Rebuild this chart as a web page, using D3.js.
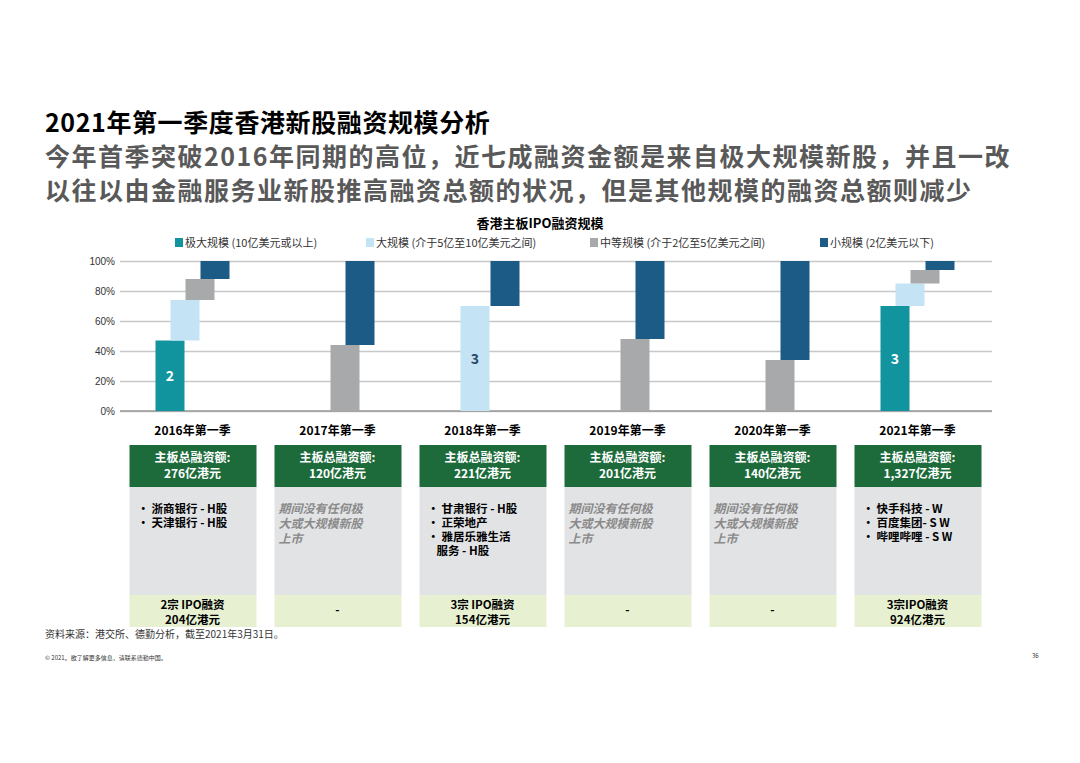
<!DOCTYPE html>
<html><head><meta charset="utf-8">
<script src="https://cdn.jsdelivr.net/npm/d3@7"></script>
<style>
body{margin:0;background:#fff;font-family:"Noto Sans CJK SC","Noto Sans",sans-serif;}
</style></head>
<body><div id="chart"></div>
<script>
// data
const years = ["2016年第一季","2017年第一季","2018年第一季","2019年第一季","2020年第一季","2021年第一季"];
const seriesNames = ["极大规模 (10亿美元或以上)","大规模 (介于5亿至10亿美元之间)","中等规模 (介于2亿至5亿美元之间)","小规模 (2亿美元以下)"];
const extraLarge = [47, 0, 0, 0, 0, 70];
const large      = [27, 0, 70, 0, 0, 15];
const medium     = [14, 44, 0, 48, 34, 9];
const small      = [12, 56, 30, 52, 66, 6];
const barLabels  = ["2", "", "3", "", "", "3"];
const labelSeries = [0, -1, 1, -1, -1, 0];
const totals = ["276亿港元","120亿港元","221亿港元","201亿港元","140亿港元","1,327亿港元"];
const listings = [["浙商银行 - H股","天津银行 - H股"], null, ["甘肃银行 - H股","正荣地产","雅居乐雅生活|服务 - H股"], null, null, ["快手科技 - W","百度集团- S W","哔哩哔哩 - S W"]];
const footers = [["2宗 IPO融资","204亿港元"], ["-"], ["3宗 IPO融资","154亿港元"], ["-"], ["-"], ["3宗IPO融资","924亿港元"]];
const yTicks = [0, 20, 40, 60, 80, 100];

const colors = ["#12949f", "#c4e3f4", "#a8a9ab", "#1c5b85"];
const W = 1080, H = 763;
const svg = d3.select("#chart").append("svg").attr("width", W).attr("height", H);

// titles
svg.append("text").attr("x", 45).attr("y", 132).attr("font-size", 25).attr("letter-spacing", 0.6).attr("font-weight", "bold").attr("fill", "#000")
  .text("2021年第一季度香港新股融资规模分析");
svg.append("text").attr("x", 45).attr("y", 166).attr("font-size", 25).attr("letter-spacing", 1.5).attr("font-weight", "bold").attr("fill", "#595959")
  .text("今年首季突破2016年同期的高位，近七成融资金额是来自极大规模新股，并且一改");
svg.append("text").attr("x", 45).attr("y", 200).attr("font-size", 25).attr("letter-spacing", 1.5).attr("font-weight", "bold").attr("fill", "#595959")
  .text("以往以由金融服务业新股推高融资总额的状况，但是其他规模的融资总额则减少");
svg.append("text").attr("x", 540).attr("y", 228).attr("text-anchor", "middle").attr("font-size", 13).attr("font-weight", "bold")
  .text("香港主板IPO融资规模");

// legend
const legX = [175, 366, 590, 820];
seriesNames.forEach((s, i) => {
  svg.append("rect").attr("x", legX[i]).attr("y", 238).attr("width", 8).attr("height", 9).attr("fill", colors[i]);
  svg.append("text").attr("x", legX[i] + 10).attr("y", 247).attr("font-size", 11).attr("fill", "#333").text(s);
});

// scales
const x = d3.scaleBand().domain(years).range([120, 990]);
const y = d3.scaleLinear().domain([0, 100]).range([411, 261]);

const yAxis = svg.append("g").attr("transform", "translate(120,0)")
  .call(d3.axisLeft(y).tickValues(yTicks).tickSize(-872).tickFormat(d => d + "%"));
yAxis.select(".domain").remove();
yAxis.selectAll(".tick line").attr("stroke", "#c8c8c8").attr("stroke-width", 1.5);
yAxis.selectAll(".tick text").attr("font-size", 10).attr("fill", "#333").attr("dx", -2);
svg.append("line").attr("x1", 120).attr("x2", 992).attr("y1", y(0)).attr("y2", y(0)).attr("stroke", "#999").attr("stroke-width", 1.5);

// waterfall bars
const series = [extraLarge, large, medium, small];
const bw = 29, step = 15;
years.forEach((yr, i) => {
  const cx = x(yr) + x.bandwidth() / 2;
  let base = 0;
  series.forEach((vals, k) => {
    const v = vals[i];
    const left = cx - 37 + k * step;
    if (v > 0) {
      svg.append("rect").attr("x", left).attr("width", bw)
        .attr("y", y(base + v)).attr("height", y(base) - y(base + v)).attr("fill", colors[k]);
      if (k === labelSeries[i]) {
        svg.append("text").attr("x", left + bw / 2).attr("y", y(base + v / 2) + 5).attr("text-anchor", "middle")
          .attr("font-size", 14).attr("font-weight", "bold").attr("fill", k === 0 ? "#fff" : "#2a4a66").text(barLabels[i]);
      }
    }
    base += v;
  });
  // category label
  svg.append("text").attr("x", cx).attr("y", 435).attr("text-anchor", "middle").attr("font-size", 12)
    .attr("font-weight", "bold").text(yr);

  // info box
  const bx = cx - 63, bwid = 127;
  svg.append("rect").attr("x", bx).attr("y", 445).attr("width", bwid).attr("height", 42).attr("fill", "#1d6b3b");
  svg.append("text").attr("x", cx).attr("y", 462).attr("text-anchor", "middle").attr("font-size", 12).attr("font-weight", "bold").attr("fill", "#fff").text("主板总融资额:");
  svg.append("text").attr("x", cx).attr("y", 478).attr("text-anchor", "middle").attr("font-size", 12).attr("font-weight", "bold").attr("fill", "#fff").text(totals[i]);
  svg.append("rect").attr("x", bx).attr("y", 487).attr("width", bwid).attr("height", 108).attr("fill", "#e2e3e5");
  svg.append("rect").attr("x", bx).attr("y", 595).attr("width", bwid).attr("height", 32).attr("fill", "#e7f1d2");
  if (listings[i]) {
    let ly = 513;
    listings[i].forEach(item => {
      item.split("|").forEach((ln, j) => {
        svg.append("text").attr("x", bx + (j === 0 ? 8 : 17)).attr("y", ly).attr("font-size", 11.5).attr("font-weight", "bold")
          .text((j === 0 ? "• " : "") + ln);
        ly += 14;
      });
    });
  } else {
    ["期间没有任何极", "大或大规模新股", "上市"].forEach((ln, j) => {
      svg.append("text").attr("x", bx + 4).attr("y", 513 + j * 15).attr("font-size", 12).attr("font-weight", "bold")
        .attr("font-style", "italic").attr("fill", "#8a8a8a").text(ln);
    });
  }
  footers[i].forEach((ln, j) => {
    svg.append("text").attr("x", cx).attr("y", footers[i].length === 1 ? 614 : 609 + j * 15).attr("text-anchor", "middle")
      .attr("font-size", 11.5).attr("font-weight", "bold").text(ln);
  });
});

// footnotes
svg.append("text").attr("x", 45).attr("y", 638).attr("font-size", 10).attr("fill", "#333").text("资料来源：港交所、德勤分析，截至2021年3月31日。");
svg.append("text").attr("x", 45).attr("y", 660).attr("font-size", 6).attr("fill", "#333").text("© 2021。欲了解更多信息，请联系德勤中国。");
svg.append("text").attr("x", 1032).attr("y", 658).attr("font-size", 6).attr("fill", "#333").text("36");
</script></body></html>
